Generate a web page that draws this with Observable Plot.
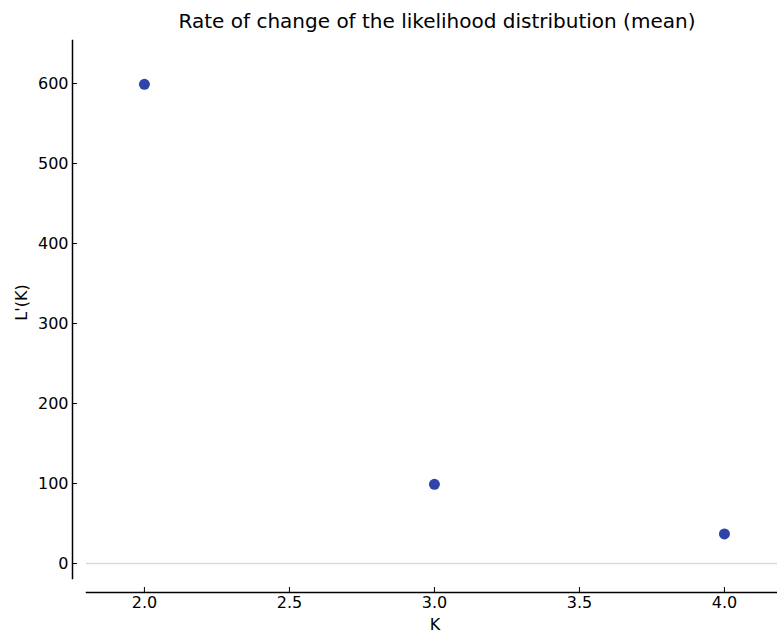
<!DOCTYPE html>
<html>
<head>
<meta charset="utf-8">
<script src="https://cdn.jsdelivr.net/npm/d3@7"></script>
<script src="https://cdn.jsdelivr.net/npm/@observablehq/plot@0.6"></script>
<style>
  html, body { margin: 0; padding: 0; background: #fff; }
  svg { display: block; }
</style>
</head>
<body>
<div id="chart"></div>
<script>
const title = "Rate of change of the likelihood distribution (mean)";
const xLabel = "K";
const yLabel = "L'(K)";
const kValues = [2, 3, 4];
const lPrime = [599, 99, 37];
const xTicks = [2.0, 2.5, 3.0, 3.5, 4.0];
const yTicks = [0, 100, 200, 300, 400, 500, 600];
const xDomain = [1.752, 4.183];
const yDomain = [-18.75, 653.75];

const data = kValues.map((k, i) => ({k, v: lPrime[i]}));
const font = "DejaVu Sans, sans-serif";

const chart = Plot.plot({
  width: 777,
  height: 635,
  marginLeft: 72,
  marginRight: 0,
  marginTop: 40,
  marginBottom: 57,
  style: {fontFamily: font, fontSize: "16px", color: "#000", background: "#fff"},
  x: {domain: xDomain},
  y: {domain: yDomain},
  marks: [
    Plot.ruleY([0], {stroke: "#d9d9d9", strokeWidth: 1.5, insetLeft: 14}),
    Plot.frame({anchor: "left", stroke: "#000", strokeWidth: 1.5}),
    Plot.frame({anchor: "bottom", stroke: "#000", strokeWidth: 1.5, dy: 14, insetLeft: 14}),
    Plot.axisY(yTicks, {anchor: "left", tickSize: -5, tickPadding: 9, tickFormat: d3.format("d"), fontSize: 16, label: null, stroke: "#000"}),
    Plot.axisX(xTicks, {anchor: "bottom", dy: 14, tickSize: -5, tickPadding: 9, tickFormat: d3.format(".1f"), fontSize: 16, label: null, stroke: "#000"}),
    Plot.dot(data, {x: "k", y: "v", r: 5.5, fill: "#2f44a8", stroke: null}),
    Plot.text([title], {frameAnchor: "top", dx: 12, dy: -27, fontSize: 20, fill: "#000"}),
    Plot.text([yLabel], {frameAnchor: "left", textAnchor: "middle", lineAnchor: "middle", rotate: -90, dx: -51, dy: -7, fontSize: 16, fill: "#000"}),
    Plot.text([xLabel], {frameAnchor: "bottom", dx: 10, dy: 51, fontSize: 16, fill: "#000"})
  ]
});
document.getElementById("chart").append(chart);
</script>
</body>
</html>
